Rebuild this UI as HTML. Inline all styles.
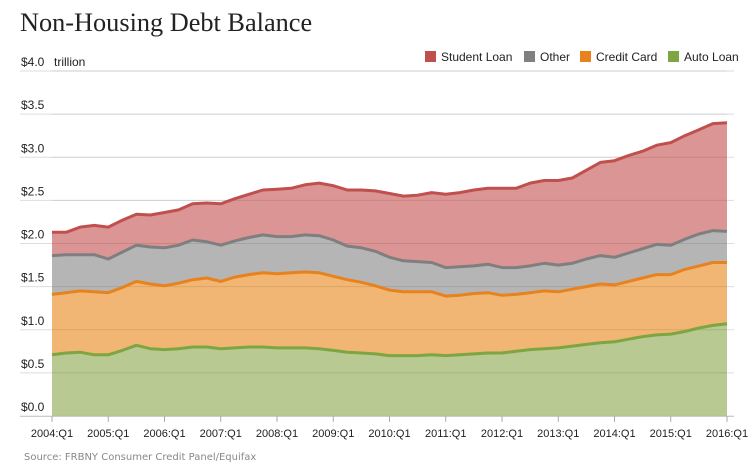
<!DOCTYPE html>
<html><head><meta charset="utf-8"><style>
body{margin:0;background:#fff;width:752px;height:467px;overflow:hidden;font-family:"Liberation Sans",sans-serif}
</style></head><body>
<svg id="s" width="752" height="467" xmlns="http://www.w3.org/2000/svg" font-family="Liberation Sans, sans-serif">
<text x="20" y="31" font-family="Liberation Serif, serif" font-size="26.3" fill="#222">Non-Housing Debt Balance</text>
<g font-size="12" fill="#222">
<rect x="425" y="51" width="11" height="11" fill="#c0504d"/><text x="441" y="61">Student Loan</text>
<rect x="524" y="51" width="11" height="11" fill="#808080"/><text x="540" y="61">Other</text>
<rect x="580" y="51" width="11" height="11" fill="#e8821e"/><text x="596" y="61">Credit Card</text>
<rect x="668" y="51" width="11" height="11" fill="#7da541"/><text x="684" y="61">Auto Loan</text>
</g>
<g id="grid"></g>
<g id="areas"></g>
<g id="ax" font-size="12" fill="#222"></g>
<text x="24" y="460" font-size="10" fill="#888" font-family="DejaVu Sans, sans-serif">Source: FRBNY Consumer Credit Panel/Equifax</text>
</svg>
<script>
var T=[2.13,2.13,2.19,2.21,2.19,2.27,2.34,2.33,2.36,2.39,2.46,2.47,2.46,2.52,2.57,2.62,2.63,2.64,2.68,2.70,2.67,2.62,2.62,2.61,2.58,2.55,2.56,2.59,2.57,2.59,2.62,2.64,2.64,2.64,2.70,2.73,2.73,2.76,2.85,2.94,2.96,3.02,3.07,3.14,3.17,3.25,3.32,3.39,3.40];
var G=[1.86,1.87,1.87,1.87,1.82,1.90,1.98,1.96,1.95,1.98,2.04,2.02,1.98,2.03,2.07,2.10,2.08,2.08,2.10,2.09,2.04,1.97,1.95,1.91,1.84,1.80,1.79,1.78,1.72,1.73,1.74,1.76,1.72,1.72,1.74,1.77,1.75,1.77,1.82,1.86,1.84,1.89,1.94,1.99,1.98,2.05,2.11,2.15,2.14];
var O=[1.41,1.43,1.45,1.44,1.43,1.49,1.56,1.53,1.51,1.54,1.58,1.60,1.56,1.61,1.64,1.66,1.65,1.66,1.67,1.66,1.62,1.58,1.55,1.51,1.46,1.44,1.44,1.44,1.39,1.40,1.42,1.43,1.40,1.41,1.43,1.45,1.44,1.47,1.50,1.53,1.52,1.56,1.60,1.64,1.64,1.70,1.74,1.78,1.78];
var A=[0.71,0.73,0.74,0.71,0.71,0.76,0.82,0.78,0.77,0.78,0.80,0.80,0.78,0.79,0.80,0.80,0.79,0.79,0.79,0.78,0.76,0.74,0.73,0.72,0.70,0.70,0.70,0.71,0.70,0.71,0.72,0.73,0.73,0.75,0.77,0.78,0.79,0.81,0.83,0.85,0.86,0.89,0.92,0.94,0.95,0.98,1.02,1.05,1.07];
var NS="http://www.w3.org/2000/svg";
function X(i){return 52+i*675/48}function Y(v){return 416-86.25*v}
function el(p,t,a){var e=document.createElementNS(NS,t);for(var k in a)e.setAttribute(k,a[k]);document.getElementById(p).appendChild(e);return e}
for(var k=0;k<=8;k++){var y=Y(k*0.5);el('grid','line',{x1:20,x2:734,y1:y,y2:y,stroke:'#ddd','stroke-width':1});
var t=el('ax','text',{x:21,y:y-5});t.textContent='$'+(k*0.5).toFixed(1);}
var tr=el('ax','text',{x:54,y:Y(4)-5});tr.textContent='trillion';
function pts(a){return a.map(function(v,i){return X(i).toFixed(1)+','+Y(v).toFixed(1)}).join(' ')}
function area(top,bot,fill,line){
var p=pts(top)+' ';if(bot){p+=bot.map(function(v,i){return X(i).toFixed(1)+','+Y(v).toFixed(1)}).reverse().join(' ')}else p+=X(48)+','+Y(0)+' '+X(0)+','+Y(0);
el('areas','polygon',{points:p,fill:fill,'fill-opacity':0.85});}
area(T,G,'#d58381');area(G,O,'#a8a8a8');area(O,A,'#efa95a');area(A,null,'#abc07e');
for(var k=1;k<=8;k++){var y=Y(k*0.5);el('areas','line',{x1:52,x2:727,y1:y,y2:y,stroke:'#000','stroke-opacity':0.07})}
[[T,'#c0504d'],[G,'#7f7f7f'],[O,'#e8821e'],[A,'#7da541']].forEach(function(s){el('areas','polyline',{points:pts(s[0]),fill:'none',stroke:s[1],'stroke-width':3,'stroke-linejoin':'round'})});
el('ax','line',{x1:20,x2:734,y1:416.5,y2:416.5,stroke:'#ccc'});
for(var i=0;i<=12;i++){var x=X(i*4);el('ax','line',{x1:x,x2:x,y1:416,y2:422,stroke:'#aaa'});
var t=el('ax','text',{x:x,y:437,'text-anchor':'middle','font-size':11});t.textContent=(2004+i)+':Q1';}
</script>
</body></html>
